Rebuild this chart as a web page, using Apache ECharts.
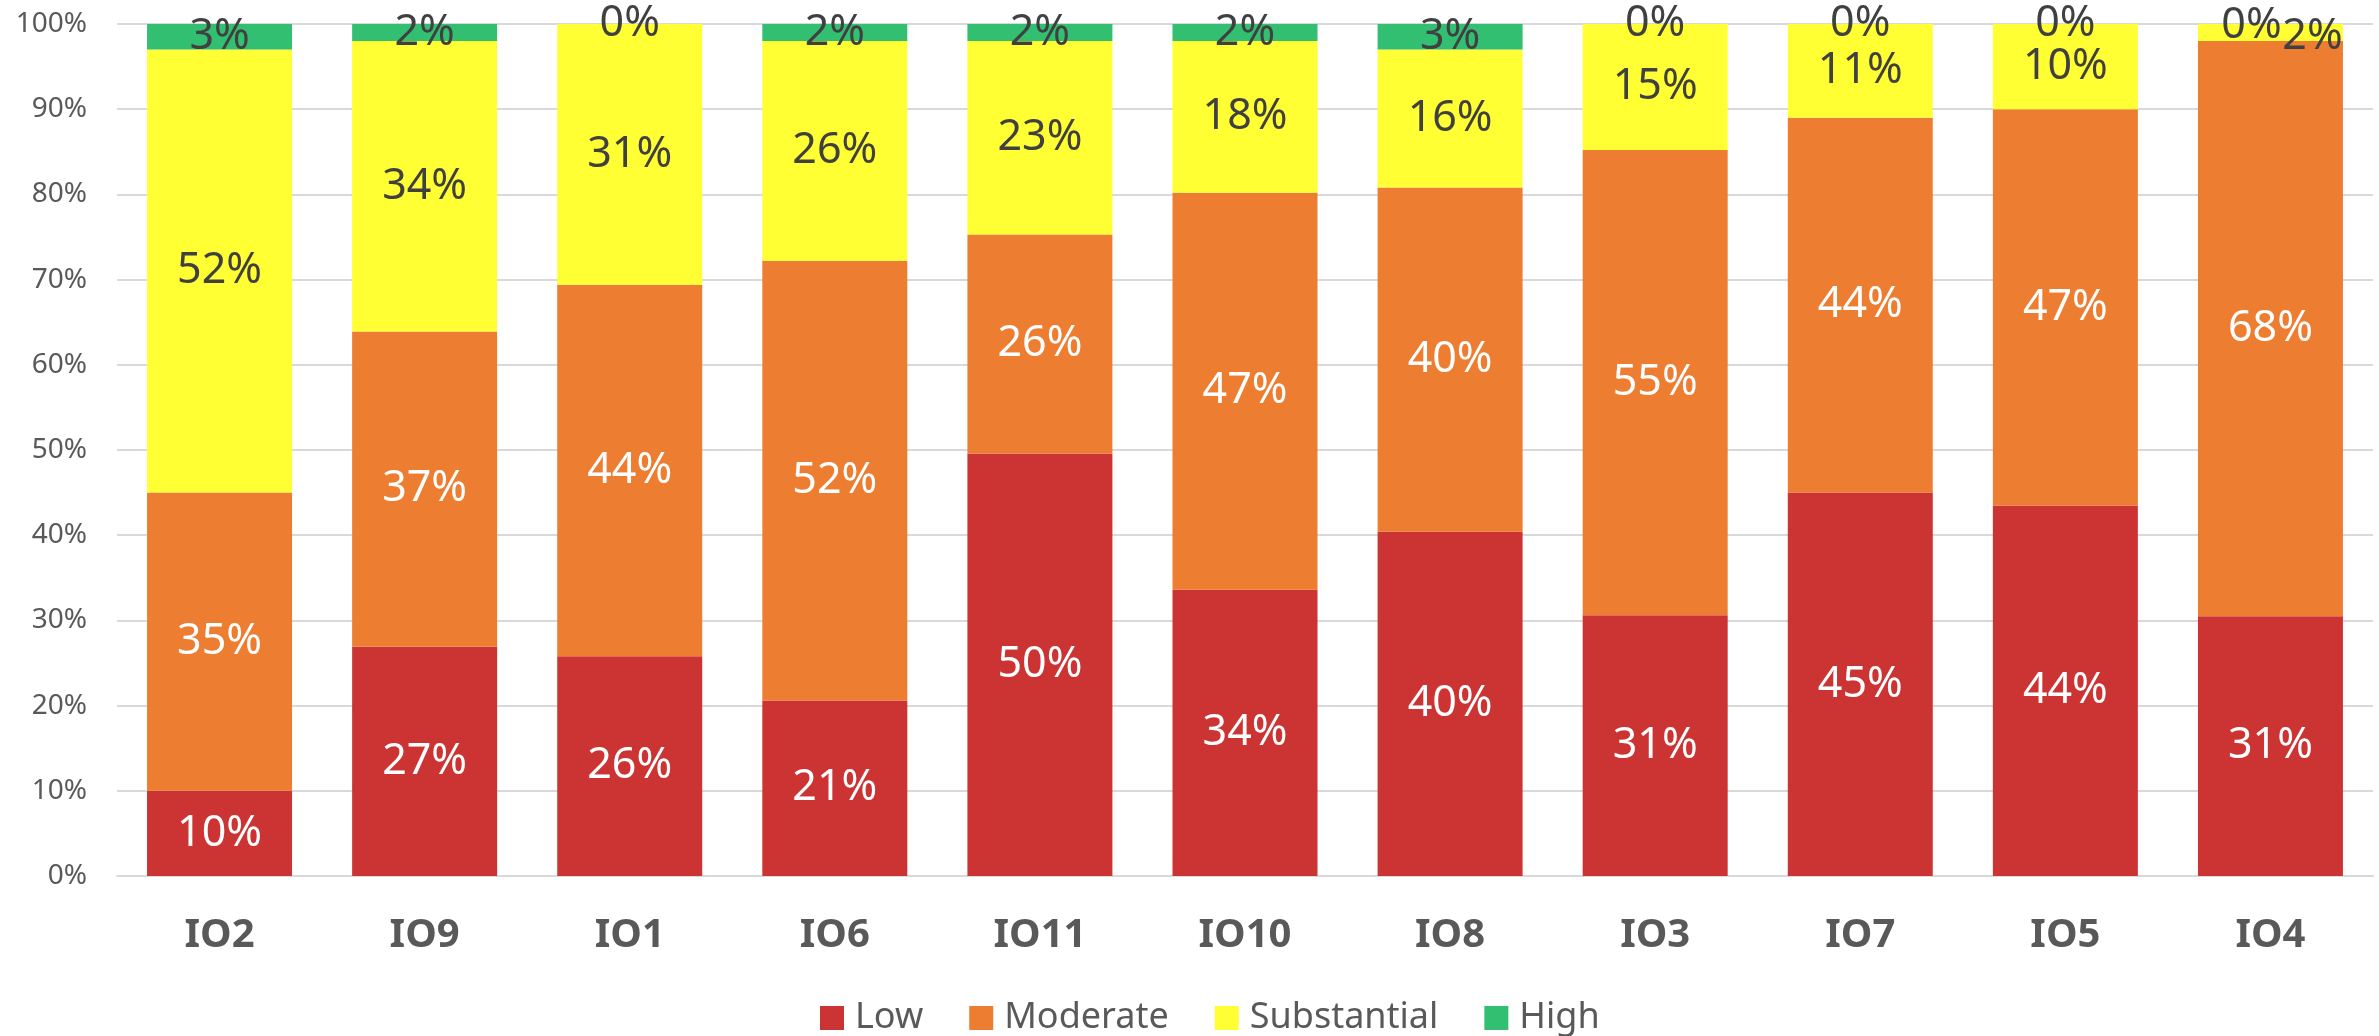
<!DOCTYPE html>
<html>
<head>
<meta charset="utf-8">
<script src="https://cdn.jsdelivr.net/npm/echarts@6/dist/echarts.min.js"></script>
<style>
  html, body {margin: 0; padding: 0; background: #fff;}
  #chart {width: 2379px; height: 1036px;}
</style>
</head>
<body>
<div id="chart"></div>
<script>
const categories = ['IO2', 'IO9', 'IO1', 'IO6', 'IO11', 'IO10', 'IO8', 'IO3', 'IO7', 'IO5', 'IO4']
const low = [10, 26.9, 25.8, 20.6, 49.6, 33.6, 40.4, 30.6, 45, 43.5, 30.5]
const moderate = [35, 37, 43.6, 51.6, 25.7, 46.6, 40.4, 54.6, 44, 46.5, 67.5]
const substantial = [52, 34.1, 30.6, 25.8, 22.7, 17.8, 16.2, 14.8, 11, 10, 2]
const high = [3, 2, 0, 2, 2, 2, 3, 0, 0, 0, 0]
const yTicks = [0, 10, 20, 30, 40, 50, 60, 70, 80, 90, 100]

const font = 'Noto Sans'

function makeSeries(name, values, color, labelColor) {
    return {
        name: name,
        type: 'bar',
        stack: 'total',
        barWidth: 145,
        itemStyle: {color: color},
        label: {
            show: true,
            position: 'inside',
            color: labelColor,
            fontFamily: font,
            fontSize: 43,
            formatter: (p) => Math.round(p.value) + '%'
        },
        data: values.map((v) => ({value: v}))
    }
}

const chart = echarts.init(document.getElementById('chart'))

const series = [
    makeSeries('Low', low, '#CC3333', '#ffffff'),
    makeSeries('Moderate', moderate, '#ED7D31', '#ffffff'),
    makeSeries('Substantial', substantial, '#FFFF33', '#404040'),
    makeSeries('High', high, '#33BF72', '#404040')
]
// IO4 labels were nudged apart in the original
series[2].data[10].label = {offset: [42, 4]}
series[3].data[10].label = {offset: [-19, 2]}

const option = {
    animation: false,
    backgroundColor: '#ffffff',
    grid: {left: 117, right: 6, top: 24, bottom: 160},
    legend: {
        left: 820,
        top: 1000,
        padding: 0,
        itemWidth: 24,
        itemHeight: 24,
        itemGap: 46,
        icon: 'rect',
        textStyle: {
            fontFamily: font,
            fontSize: 36,
            color: '#595959',
            padding: [0, 0, 0, 6]
        },
        data: ['Low', 'Moderate', 'Substantial', 'High']
    },
    xAxis: {
        type: 'category',
        data: categories,
        axisTick: {show: false},
        axisLine: {lineStyle: {color: '#D9D9D9', width: 2}},
        axisLabel: {
            fontFamily: font,
            fontSize: 40,
            fontWeight: 'bold',
            color: '#595959',
            margin: 40
        }
    },
    yAxis: {
        type: 'value',
        min: yTicks[0],
        max: yTicks[yTicks.length - 1],
        interval: 10,
        axisLine: {show: false},
        axisTick: {show: false},
        splitLine: {lineStyle: {color: '#D9D9D9', width: 2}},
        axisLabel: {
            fontFamily: font,
            fontSize: 28,
            color: '#595959',
            margin: 30,
            formatter: '{value}%'
        }
    },
    series: series
}

chart.setOption(option)
</script>
</body>
</html>
